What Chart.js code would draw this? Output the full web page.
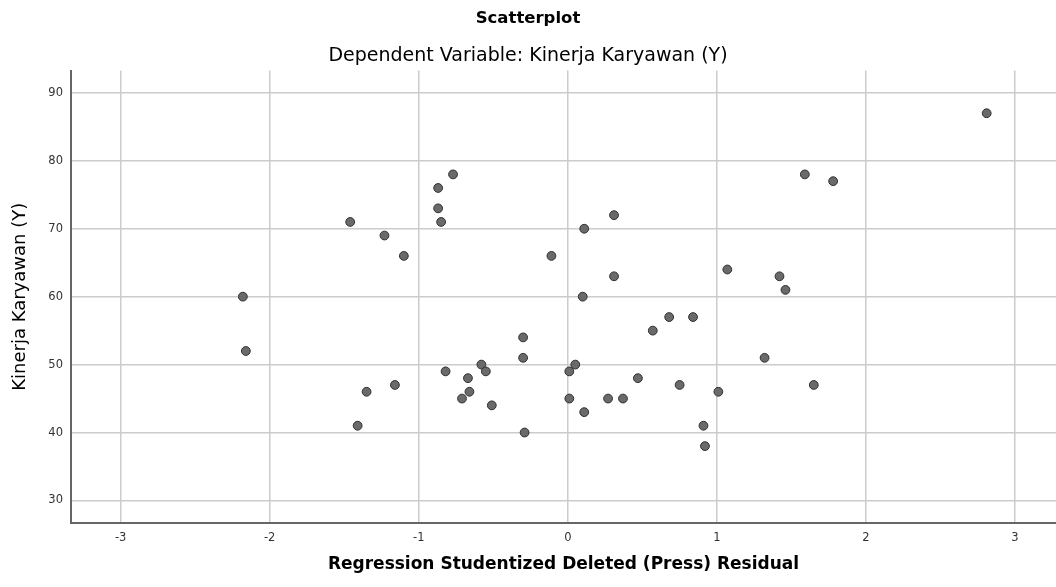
<!DOCTYPE html>
<html>
<head>
<meta charset="utf-8">
<script src="https://cdn.jsdelivr.net/npm/chart.js@4/dist/chart.umd.min.js"></script>
<style>
  body { margin: 0; background: #fff; }
</style>
</head>
<body>
<canvas id="scatter" width="1056" height="587"></canvas>
<script>
// residui studentizzati (asse x) e kinerja karyawan (asse y)
var residuals = [-2.18, -2.16, -1.46, -1.41, -1.35, -1.23, -1.16, -1.10, -0.87, -0.87,
  -0.85, -0.82, -0.77, -0.71, -0.67, -0.66, -0.58, -0.55, -0.51, -0.30,
  -0.30, -0.29, -0.11, 0.01, 0.01, 0.05, 0.10, 0.11, 0.11, 0.27,
  0.31, 0.31, 0.37, 0.47, 0.57, 0.68, 0.75, 0.84, 0.91, 0.92,
  1.01, 1.07, 1.32, 1.42, 1.46, 1.59, 1.65, 1.78, 2.81];
var kinerja = [60, 52, 71, 41, 46, 69, 47, 66, 76, 73,
  71, 49, 78, 45, 48, 46, 50, 49, 44, 54,
  51, 40, 66, 49, 45, 50, 60, 70, 43, 45,
  63, 72, 45, 48, 55, 57, 47, 57, 41, 38,
  46, 64, 51, 63, 61, 78, 47, 77, 87];
var xTicks = [-3, -2, -1, 0, 1, 2, 3];
var yTicks = [30, 40, 50, 60, 70, 80, 90];

function init() {
  var points = [];
  for (var i = 0; i < residuals.length; i++) {
    points.push({x: residuals[i], y: kinerja[i]});
  }

  var ctx = document.getElementById('scatter').getContext('2d');
  var fontFam = '"DejaVu Sans", sans-serif';

  var chart = new Chart(ctx, {
    type: 'scatter',
    data: {
      datasets: [{
        data: points,
        backgroundColor: '#6a6a6a',
        borderColor: '#2f2f2f',
        borderWidth: 1,
        pointRadius: 4.4,
        pointHoverRadius: 4.4
      }]
    },
    options: {
      responsive: false,
      animation: false,
      layout: { autoPadding: false, padding: { left: 0, top: 0, bottom: 0, right: 0 } },
      plugins: {
        legend: { display: false },
        tooltip: { enabled: false },
        title: {
          display: true,
          text: 'Scatterplot',
          color: '#000',
          font: { family: fontFam, size: 16.5, weight: 'bold' },
          padding: { top: 9, bottom: 8 }
        },
        subtitle: {
          display: true,
          text: 'Dependent Variable: Kinerja Karyawan (Y)',
          color: '#000',
          font: { family: fontFam, size: 19 },
          padding: { top: 8, bottom: 3 }
        }
      },
      scales: {
        x: {
          type: 'linear',
          min: -3.333,
          max: 3.275,
          afterBuildTicks: function (scale) {
            scale.ticks = xTicks.map(function (v) { return {value: v}; });
          },
          afterFit: function (scale) { scale.height = 64; },
          ticks: {
            color: '#333',
            font: { family: fontFam, size: 11.5 },
            padding: 8
          },
          grid: { color: '#cccccc', lineWidth: 1.5, drawTicks: false },
          border: { color: '#666', width: 2 },
          title: {
            display: true,
            text: 'Regression Studentized Deleted (Press) Residual',
            color: '#000',
            font: { family: fontFam, size: 17, weight: 'bold' },
            padding: { top: 0, bottom: 12 }
          }
        },
        y: {
          type: 'linear',
          min: 26.68,
          max: 93.28,
          afterBuildTicks: function (scale) {
            scale.ticks = yTicks.map(function (v) { return {value: v}; });
          },
          afterFit: function (scale) { scale.width = 71; },
          ticks: {
            color: '#333',
            font: { family: fontFam, size: 11.5 },
            padding: 8
          },
          grid: { color: '#cccccc', lineWidth: 1.5, drawTicks: false },
          border: { color: '#666', width: 2 },
          title: {
            display: true,
            text: 'Kinerja Karyawan (Y)',
            color: '#000',
            font: { family: fontFam, size: 18 },
            padding: { top: 10, bottom: 0 }
          }
        }
      }
    }
  });
}

init();
</script>
</body>
</html>
